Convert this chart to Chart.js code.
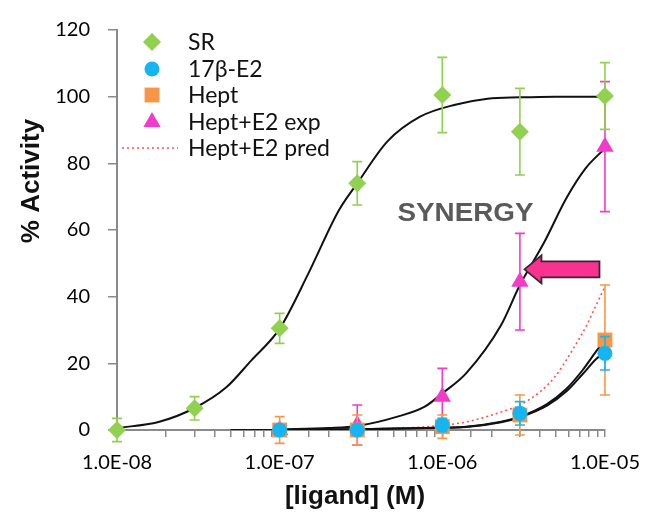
<!DOCTYPE html>
<html>
<head>
<meta charset="utf-8">
<title>Activity vs ligand</title>
<script src="https://cdn.jsdelivr.net/npm/chart.js@4.4.1/dist/chart.umd.min.js"></script>
<style>
  html, body { margin: 0; padding: 0; background: #fff; }
  #wrap { width: 654px; height: 520px; position: relative; }
</style>
</head>
<body>
<div id="wrap"><canvas id="mychart"></canvas></div>
<script>
//DATA------------------------------------------------------------------
const concSR = [1e-8, 3e-8, 1e-7, 3e-7, 1e-6, 3e-6, 1e-5];
const actSR = [0, 6.5, 30.5, 74, 100.5, 89.5, 100.2];
const errSR = [3.5, 3.5, 4.5, 6.5, 11.3, 13, 10];

const concLig = [1e-7, 3e-7, 1e-6, 3e-6, 1e-5];
const actE2 = [0, 0, 1.5, 5, 23];
const errE2 = [1.5, 1.5, 2, 3.5, 5];
const actHept = [0, 0, 1, 4.5, 27];
const errHept = [4, 4.5, 3.5, 6, 16.5];
const actHeptE2 = [0, 1.5, 10, 44.5, 85];
const errHeptE2 = [1.5, 6, 8.5, 14.5, 19.5];

// fitted curves
const fitSRx = [1e-8, 1.8e-8, 3e-8, 4.7e-8, 6.7e-8, 1e-7, 1.5e-7, 2.3e-7, 3e-7, 4.6e-7, 7.3e-7, 1.2e-6, 1.9e-6, 3e-6, 5e-6, 1e-5];
const fitSRy = [0.6, 2.4, 6.6, 12.8, 20.9, 30.4, 46.9, 65.7, 74, 86.6, 94, 97.6, 99.4, 99.8, 100, 100];

const fitSynX = [1e-7, 2e-7, 3e-7, 5.3e-7, 7.8e-7, 1e-6, 1.4e-6, 2.3e-6, 3e-6, 4.2e-6, 5.8e-6, 7.6e-6, 1e-5];
const fitSynY = [0.2, 0.6, 1.2, 4, 7, 11, 17, 31.5, 43.5, 56, 69.6, 78.5, 84.5];

const fitLowX = [5e-8, 1e-7, 3e-7, 8e-7, 1.4e-6, 2.3e-6, 3e-6, 4.4e-6, 5.8e-6, 7.3e-6, 8.8e-6, 1e-5];
const fitHeptY = [0, 0, 0.2, 0.6, 1.0, 2.5, 4, 7.8, 12.4, 18, 23.5, 27];
const fitE2Y = [0, 0, 0.2, 0.6, 0.9, 2.3, 3.8, 7.3, 11.6, 16.8, 21.2, 23.5];

const predX = [3e-7, 8e-7, 1.4e-6, 2.3e-6, 3e-6, 4e-6, 5e-6, 6.4e-6, 7.7e-6, 8.8e-6, 1e-5];
const predY = [0.2, 1, 2.4, 5.4, 7.5, 11.5, 16.4, 24.5, 31.3, 37.3, 43];

const yTicks = [0, 20, 40, 60, 80, 100, 120];
const legendLabels = ["SR", "17β-E2", "Hept", "Hept+E2 exp", "Hept+E2 pred"];
//----------------------------------------------------------------------

const GREEN = "#92D050";
const CYAN = "#16B4F0";
const ORANGE = "#F79646";
const MAGENTA = "#F03CC8";
const PRED = "#FF5050";
const TITLE_FONT = "bold 26px 'Liberation Sans', Arial, sans-serif";

function pts(xs, ys) {
  return xs.map(function (x, i) { return { x: x, y: ys[i] }; });
}

function fitLine(xs, ys, extra) {
  return Object.assign({
    type: "line",
    data: pts(xs, ys),
    borderColor: "#111",
    borderWidth: 2,
    pointRadius: 0,
    showLine: true,
    fill: false,
    cubicInterpolationMode: "monotone",
    order: 2,
  }, extra || {});
}

function pointSet(label, xs, ys, errs, color, style, radius) {
  return {
    type: "scatter",
    label: label,
    data: pts(xs, ys),
    errors: errs,
    backgroundColor: color,
    borderColor: color,
    pointStyle: style,
    pointRadius: radius,
    pointHoverRadius: radius,
    pointBorderWidth: 0,
    clip: false,
    order: 1,
  };
}

//ERROR BARS------------------------------------------------------------
const errorBars = {
  id: "errorBars",
  beforeDatasetDraw(chart, args) {
    const ds = chart.data.datasets[args.index];
    if (!ds.errors) return;
    const xs = chart.scales.x, ys = chart.scales.y;
    const ctx = chart.ctx;
    ctx.save();
    ctx.strokeStyle = ds.borderColor;
    ctx.lineWidth = 1.6;
    ds.data.forEach(function (p, i) {
      const e = ds.errors[i];
      const px = xs.getPixelForValue(p.x);
      const top = ys.getPixelForValue(p.y + e);
      const bot = ys.getPixelForValue(p.y - e);
      ctx.beginPath();
      ctx.moveTo(px, top); ctx.lineTo(px, bot);
      ctx.moveTo(px - 5, top); ctx.lineTo(px + 5, top);
      ctx.moveTo(px - 5, bot); ctx.lineTo(px + 5, bot);
      ctx.stroke();
    });
    ctx.restore();
  },
};

//ANNOTATIONS + LEGEND----------------------------------------------------
const extras = {
  id: "extras",
  afterDraw(chart) {
    const ctx = chart.ctx;
    const xs = chart.scales.x, ys = chart.scales.y;
    const area = chart.chartArea;
    ctx.save();
    ctx.fillStyle = "#111";
    ctx.textAlign = "center";
    ctx.textBaseline = "middle";
    ctx.font = TITLE_FONT;

    // axis titles
    ctx.save();
    ctx.translate(32, 181);
    ctx.rotate(-Math.PI / 2);
    ctx.fillText("% Activity", 0, 0);
    ctx.restore();
    ctx.fillText("[ligand] (M)", area.left + 238, 497);

    // SYNERGY
    ctx.save();
    ctx.fillStyle = "#5A5A5A";
    ctx.textAlign = "left";
    ctx.translate(xs.getPixelForValue(5.3e-7), ys.getPixelForValue(64.8));
    ctx.scale(1.07, 1);
    ctx.fillText("SYNERGY", 0, 0);
    ctx.restore();

    // arrow pointing at the synergy point
    const tx = xs.getPixelForValue(3.2e-6), ty = ys.getPixelForValue(48.2);
    ctx.beginPath();
    ctx.moveTo(tx, ty);
    ctx.lineTo(tx + 17, ty - 14);
    ctx.lineTo(tx + 17, ty - 8);
    ctx.lineTo(tx + 75, ty - 8);
    ctx.lineTo(tx + 75, ty + 8);
    ctx.lineTo(tx + 17, ty + 8);
    ctx.lineTo(tx + 17, ty + 14);
    ctx.closePath();
    ctx.fillStyle = "#F7338F";
    ctx.fill();
    ctx.lineWidth = 1.8;
    ctx.strokeStyle = "#3b2430";
    ctx.stroke();

    // legend
    const lx = area.left + 35, tx0 = area.left + 71;
    const rowY = [42, 69, 95, 122, 148];
    const styles = ["rectRot", "circle", "rect", "triangle", null];
    const cols = [GREEN, CYAN, ORANGE, MAGENTA, PRED];
    const radii = [9, 7.5, 10.5, 10, 0];
    ctx.font = "23px Lato, 'Open Sans', sans-serif";
    ctx.textAlign = "left";
    legendLabels.forEach(function (lab, i) {
      if (styles[i]) {
        ctx.fillStyle = cols[i];
        ctx.strokeStyle = cols[i];
        Chart.helpers.drawPoint(ctx, { pointStyle: styles[i], radius: radii[i], borderWidth: 0 }, lx, rowY[i]);
      } else {
        ctx.save();
        ctx.strokeStyle = cols[i];
        ctx.lineWidth = 1.5;
        ctx.setLineDash([2, 3]);
        ctx.beginPath();
        ctx.moveTo(lx - 30, rowY[i]);
        ctx.lineTo(lx + 26, rowY[i]);
        ctx.stroke();
        ctx.restore();
      }
      ctx.fillStyle = "#111";
      ctx.fillText(lab, tx0, rowY[i] + 1);
    });
    ctx.restore();
  },
};

//CHART-----------------------------------------------------------------
function expLabel(v) {
  const lg = Math.log10(v);
  const e = Math.round(lg);
  if (Math.abs(lg - e) > 1e-6) return "";
  const n = Math.abs(e);
  return "1.0E" + (e < 0 ? "-" : "+") + (n < 10 ? "0" + n : n);
}

const config = {
  data: {
    datasets: [
      fitLine(fitSRx, fitSRy),
      fitLine(fitSynX, fitSynY),
      fitLine(fitLowX, fitHeptY),
      fitLine(fitLowX, fitE2Y),
      fitLine(predX, predY, { borderColor: PRED, borderWidth: 1.6, borderDash: [2, 3] }),
      pointSet("SR", concSR, actSR, errSR, GREEN, "rectRot", 9),
      pointSet("17β-E2", concLig, actE2, errE2, CYAN, "circle", 7.5),
      pointSet("Hept", concLig, actHept, errHept, ORANGE, "rect", 10.5),
      pointSet("Hept+E2 exp", concLig, actHeptE2, errHeptE2, MAGENTA, "triangle", 10),
    ],
  },
  options: {
    responsive: true,
    maintainAspectRatio: false,
    animation: false,
    layout: { padding: { top: 28, right: 45, left: 0, bottom: 0 } },
    plugins: { legend: { display: false }, tooltip: { enabled: false } },
    scales: {
      x: {
        type: "logarithmic",
        min: 1e-8,
        max: 1e-5,
        afterFit: function (s) { s.height = 90; },
        grid: { drawOnChartArea: false, drawTicks: true, tickLength: 7, color: "#8a8a8a", lineWidth: 1.5 },
        border: { display: true, color: "#8a8a8a", width: 2 },
        ticks: {
          autoSkip: false,
          maxRotation: 0,
          padding: 14,
          color: "#000",
          font: { family: "Lato, 'Open Sans', sans-serif", size: 20 },
          callback: function (v) { return expLabel(v); },
        },
        title: { display: false },
      },
      y: {
        type: "linear",
        min: 0,
        max: 120,
        afterFit: function (s) { s.width = 117; },
        afterBuildTicks: function (s) { s.ticks = yTicks.map(function (v) { return { value: v }; }); },
        grid: { drawOnChartArea: false, drawTicks: true, tickLength: 9, color: "#8a8a8a", lineWidth: 1.5 },
        border: { display: true, color: "#8a8a8a", width: 2 },
        ticks: {
          padding: 18,
          color: "#000",
          font: { family: "Lato, 'Open Sans', sans-serif", size: 20 },
        },
        title: { display: false },
      },
    },
  },
  plugins: [errorBars, extras],
};

const myChart = new Chart(document.getElementById("mychart"), config);
</script>
</body>
</html>
